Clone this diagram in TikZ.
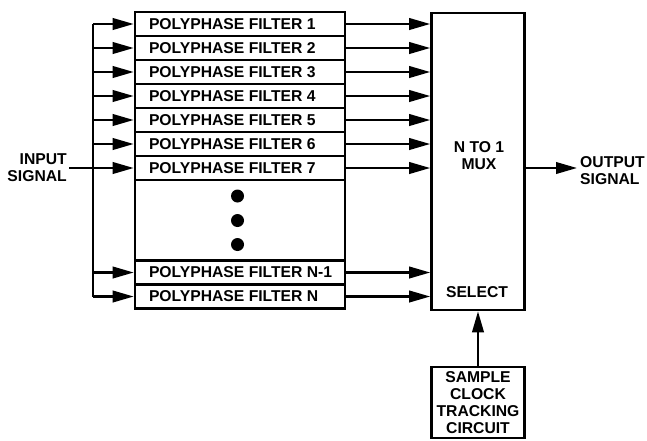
\documentclass[tikz,border=0pt]{standalone}
\usepackage{fontspec}
\setmainfont{Liberation Sans}
\usetikzlibrary{arrows.meta}
\newcommand{\ftxt}[1]{\makebox[182pt][l]{#1}}
\begin{document}
\begin{tikzpicture}[x=1pt,y=-1pt,
  every node/.style={font=\fontsize{15.7pt}{17pt}\selectfont\bfseries},
  box/.style={draw,line width=2.6pt,rectangle,inner sep=0pt},
  filt/.style={box,minimum width=210pt,minimum height=24pt},
  conn/.style={line width=2.3pt},
  arr/.style={conn,-{Triangle[length=21pt,width=11.5pt]}}]
\useasboundingbox (0,0) rectangle (647,440);
% filters
\node[filt] (f1) at (240,24) {\ftxt{POLYPHASE FILTER 1}};
\node[filt] (f2) at (240,48) {\ftxt{POLYPHASE FILTER 2}};
\node[filt] (f3) at (240,72) {\ftxt{POLYPHASE FILTER 3}};
\node[filt] (f4) at (240,96) {\ftxt{POLYPHASE FILTER 4}};
\node[filt] (f5) at (240,120) {\ftxt{POLYPHASE FILTER 5}};
\node[filt] (f6) at (240,144) {\ftxt{POLYPHASE FILTER 6}};
\node[filt] (f7) at (240,168) {\ftxt{POLYPHASE FILTER 7}};
\node[box,minimum width=210pt,minimum height=80.6pt] (blank) at (240,220.3) {};
\node[filt] (fn1) at (240,272.5) {\ftxt{POLYPHASE FILTER N-1}};
\node[filt] (fn) at (240,296.5) {\ftxt{POLYPHASE FILTER N}};
\fill (237.5,196) circle[radius=6.5pt];
\fill (237.5,220.5) circle[radius=6.5pt];
\fill (237.5,244.5) circle[radius=6.5pt];
% mux
\node[box,minimum width=93pt,minimum height=297pt] (mux) at (478,161.5) {};
\node[align=center] (muxt) at (479,156) {N TO 1\\MUX};
\node (sel) at (477,292) {SELECT};
% sample clock
\node[box,minimum width=93pt,minimum height=71pt,align=center] (sc) at (478,402.5) {SAMPLE\\CLOCK\\TRACKING\\CIRCUIT};
% input
\node[anchor=east,align=right,inner sep=0pt] (inl) at (67,168) {INPUT\\SIGNAL};
\coordinate (in) at (69,168);
\coordinate (bt) at (93,0);
\draw[arr] (in) -- (f7.west);
\draw[conn] (f1.west -| bt) -- (fn.west -| bt);
\foreach \f in {f1,f2,f3,f4,f5,f6,fn1,fn}{
  \draw[arr] (\f.west -| bt) -- (\f.west);
}
\foreach \f in {f1,f2,f3,f4,f5,f6,f7,fn1,fn}{
  \draw[arr] (\f.east) -- (\f.east -| mux.west);
}
% output
\coordinate (out) at (577,168);
\draw[arr] (mux.east |- f7) -- (out);
\node[anchor=west,align=left,inner sep=0pt] (outl) at (580,170.5) {OUTPUT\\SIGNAL};
% select
\draw[arr] (sc.north) -- (mux.south);
\end{tikzpicture}
\end{document}
